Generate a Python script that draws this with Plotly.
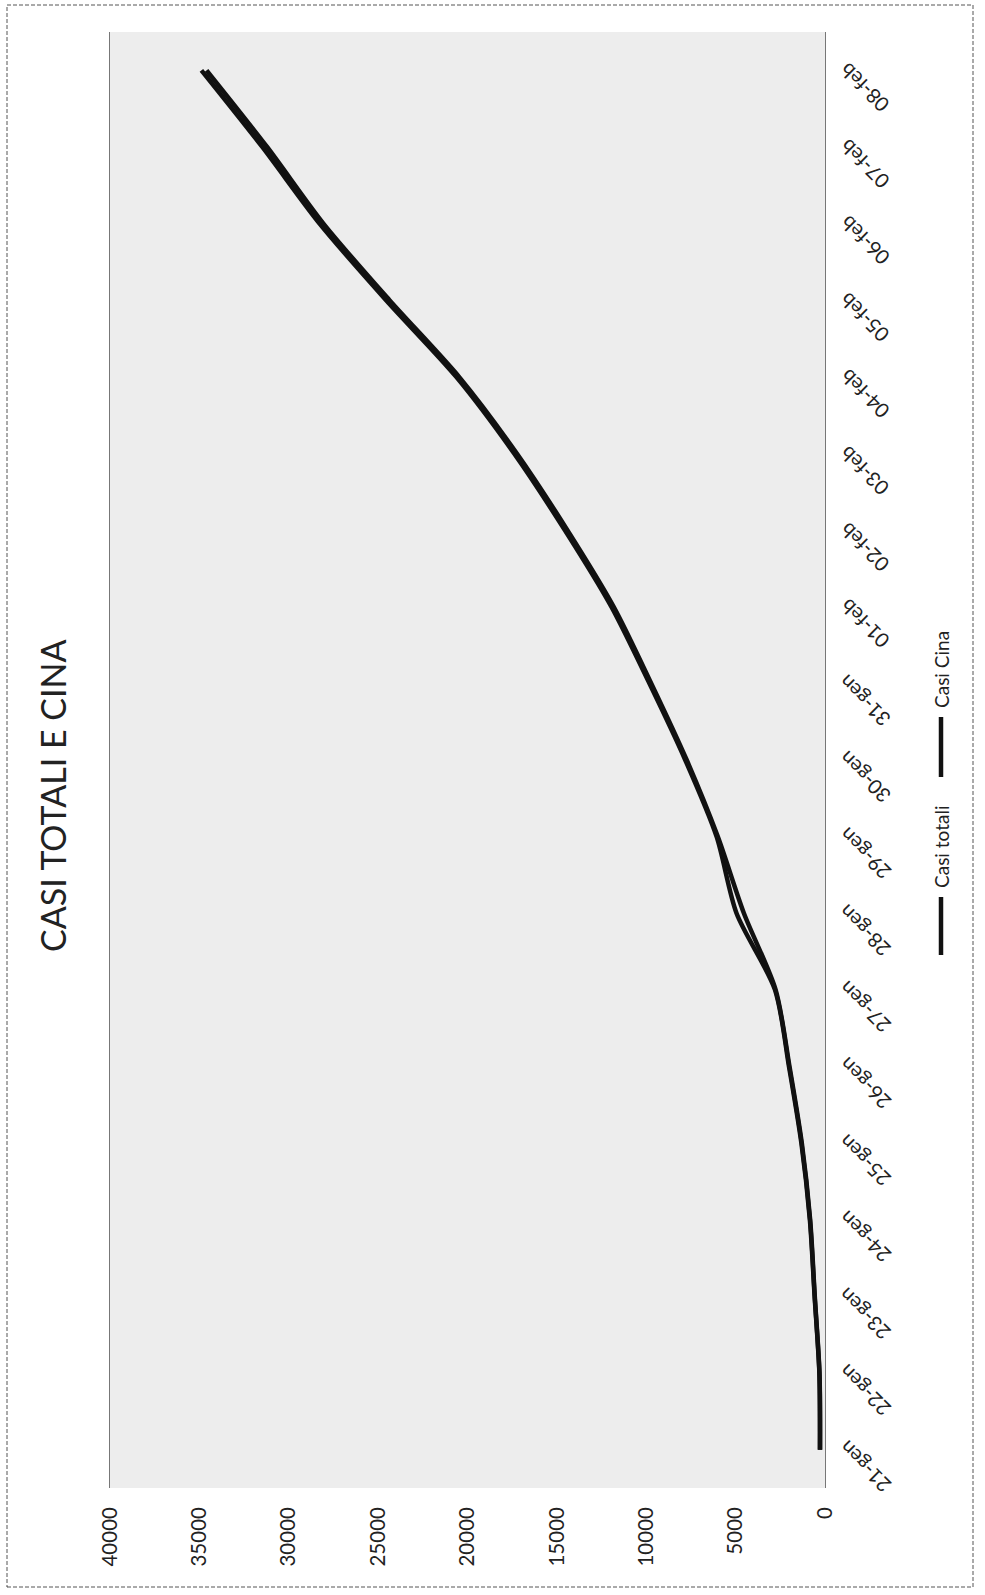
import plotly.graph_objects as go

# Daily cumulative confirmed cases, 21 Jan - 08 Feb
date_labels = ["21-gen", "22-gen", "23-gen", "24-gen", "25-gen", "26-gen", "27-gen",
               "28-gen", "29-gen", "30-gen", "31-gen", "01-feb", "02-feb", "03-feb",
               "04-feb", "05-feb", "06-feb", "07-feb", "08-feb"]
casi_totali = [282, 314, 581, 846, 1320, 2014, 2798, 4950, 6065, 7818, 9826,
               11953, 14557, 17391, 20630, 24554, 28276, 31481, 34886]
casi_cina = [278, 309, 571, 830, 1297, 1985, 2761, 4537, 5997, 7736, 9720,
             11821, 14411, 17238, 20471, 24363, 28060, 31211, 34598]
value_ticks = [0, 5000, 10000, 15000, 20000, 25000, 30000, 35000, 40000]

W, H = 985, 1595
L, R, T, B = 110, 160, 32, 107
plot_w = W - L - R
plot_h = H - T - B

FONT = "Lato, 'Open Sans', sans-serif"
INK = "#222222"


def px_x(px):
    """Page pixel x -> paper x."""
    return (px - L) / plot_w


def px_y(py):
    """Page pixel y -> paper y."""
    return (H - B - py) / plot_h


fig = go.Figure()
for name, vals in (("Casi totali", casi_totali), ("Casi Cina", casi_cina)):
    fig.add_trace(go.Scatter(
        x=vals, y=date_labels, name=name, mode="lines",
        line=dict(color="#111111", width=4.5, shape="spline", smoothing=0.8),
        showlegend=False,
    ))

annotations = []
# category labels beside the date axis
for d in date_labels:
    annotations.append(dict(
        x=px_x(864), xref="paper", y=d, yref="y", yshift=-17,
        xanchor="center", yanchor="middle",
        text=d, textangle=-135, showarrow=False,
        font=dict(family=FONT, size=20, color=INK),
    ))

# title
annotations.append(dict(
    x=px_x(52), xref="paper", y=px_y(796), yref="paper",
    xanchor="center", yanchor="middle",
    text="CASI TOTALI E CINA", textangle=-90, showarrow=False,
    font=dict(family=FONT, size=34, color=INK),
))

# legend entries
shapes = []
legend_items = [("Casi totali", 897, 955, 847), ("Casi Cina", 717, 777, 670)]
for label, d0, d1, tc in legend_items:
    shapes.append(dict(
        type="line", xref="paper", yref="paper",
        x0=px_x(941), x1=px_x(941), y0=px_y(d0), y1=px_y(d1),
        line=dict(color="#111111", width=4.5),
    ))
    annotations.append(dict(
        x=px_x(941), xref="paper", y=px_y(tc), yref="paper",
        xanchor="center", yanchor="middle",
        text=label, textangle=-90, showarrow=False,
        font=dict(family=FONT, size=19, color=INK),
    ))

# outer chart border
shapes.append(dict(
    type="rect", xref="paper", yref="paper",
    x0=px_x(7), x1=px_x(973), y0=px_y(1587), y1=px_y(5),
    line=dict(color="#555555", width=1, dash="4px,2px"),
    fillcolor="rgba(0,0,0,0)", layer="below",
))

fig.update_layout(
    width=W, height=H,
    margin=dict(l=L, r=R, t=T, b=B),
    paper_bgcolor="white",
    plot_bgcolor="#ededed",
    annotations=annotations,
    shapes=shapes,
    xaxis=dict(
        range=[40000, 0], tickmode="array", tickvals=value_ticks,
        ticktext=[str(v) for v in value_ticks], tickangle=-90,
        showgrid=False, zeroline=False, showline=False, ticks="",
        ticklabelstandoff=14,
        tickfont=dict(family=FONT, size=20.5, color=INK),
    ),
    yaxis=dict(
        type="category", categoryorder="array", categoryarray=date_labels,
        range=[-0.5, len(date_labels) - 0.5], side="right",
        showticklabels=False, showgrid=False, zeroline=False,
        showline=True, mirror=True, linecolor="#777777", linewidth=1,
        ticks="",
    ),
)

fig.write_html("out.html")
